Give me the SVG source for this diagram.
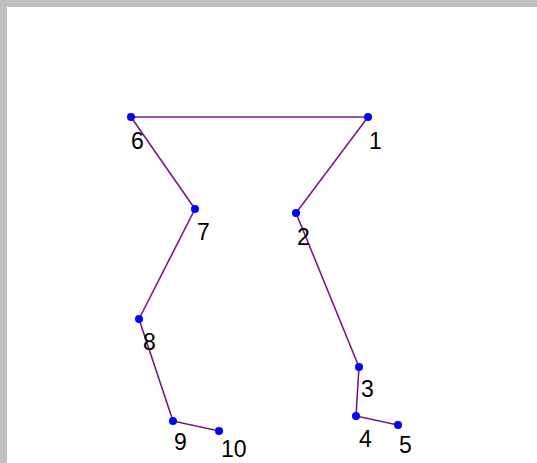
<svg xmlns="http://www.w3.org/2000/svg" width="537" height="463" viewBox="0 0 537 463">
<style>
.e{stroke:#7a1a80;stroke-width:1.6;fill:none}
.d{fill:#0000ff}
.t{font-family:"Liberation Sans",Arial,sans-serif;font-size:23px;fill:#000}
</style>
<rect width="537" height="463" fill="#c0c0c0"/>
<rect x="7" y="7" width="530" height="456" fill="#ffffff"/>
<g id="connectors">
<line class="e" x1="131" y1="117" x2="368" y2="117" stroke-width="1.9"/>
<line class="e" x1="368" y1="117" x2="296" y2="213"/>
<line class="e" x1="296" y1="213" x2="359" y2="367"/>
<line class="e" x1="359" y1="367" x2="356" y2="416"/>
<line class="e" x1="356" y1="416" x2="398" y2="425"/>
<line class="e" x1="131" y1="117" x2="195" y2="209"/>
<line class="e" x1="195" y1="209" x2="139" y2="319"/>
<line class="e" x1="139" y1="319" x2="173" y2="421"/>
<line class="e" x1="173" y1="421" x2="219" y2="431"/>
</g>
<g id="n1"><circle class="d" cx="368" cy="117" r="4"/><text class="t" x="369" y="149">1</text></g>
<g id="n2"><circle class="d" cx="296" cy="213" r="4"/><text class="t" x="297" y="245">2</text></g>
<g id="n3"><circle class="d" cx="359" cy="367" r="4"/><text class="t" x="361" y="397">3</text></g>
<g id="n4"><circle class="d" cx="356" cy="416" r="4"/><text class="t" x="359" y="447">4</text></g>
<g id="n5"><circle class="d" cx="398" cy="425" r="4"/><text class="t" x="399" y="453">5</text></g>
<g id="n6"><circle class="d" cx="131" cy="117" r="4"/><text class="t" x="131" y="149">6</text></g>
<g id="n7"><circle class="d" cx="195" cy="209" r="4"/><text class="t" x="197" y="240">7</text></g>
<g id="n8"><circle class="d" cx="139" cy="319" r="4"/><text class="t" x="143" y="350">8</text></g>
<g id="n9"><circle class="d" cx="173" cy="421" r="4"/><text class="t" x="174" y="450">9</text></g>
<g id="n10"><circle class="d" cx="219" cy="431" r="4"/><text class="t" x="221" y="457">10</text></g>
</svg>
